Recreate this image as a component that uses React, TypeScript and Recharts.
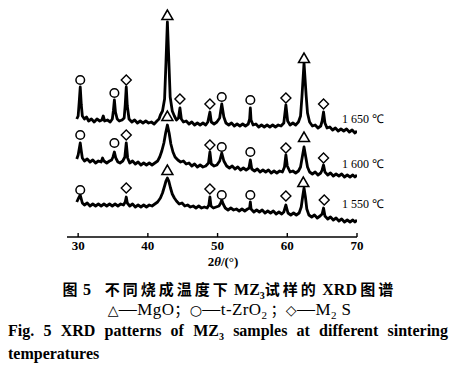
import { ComposedChart, Line, Scatter, XAxis, YAxis } from 'recharts';

// XRD traces, [2θ, intensity offset]
const trace1650: [number, number][] = [
  [29.8, 118], [30.0, 121], [30.15, 135], [30.3, 150], [30.45, 132], [30.6, 121], [30.9, 118], [31.2, 120],
  [31.5, 116], [31.9, 118], [32.3, 115], [32.7, 118], [33.1, 116], [33.4, 117], [33.6, 121], [33.8, 116],
  [34.2, 117], [34.6, 115], [34.9, 118], [35.05, 126], [35.2, 137], [35.35, 125], [35.6, 118], [35.9, 116],
  [36.3, 117], [36.6, 119], [36.75, 132], [36.9, 150], [37.05, 131], [37.3, 118], [37.7, 115], [38.1, 117],
  [38.5, 114], [38.9, 116], [39.3, 114], [39.7, 116], [40.1, 114], [40.5, 115], [40.9, 113], [41.3, 116],
  [41.6, 118], [41.8, 122], [42.1, 126], [42.4, 138], [42.6, 175], [42.8, 215], [43.0, 178], [43.2, 140],
  [43.5, 126], [43.8, 121], [44.1, 117], [44.4, 119], [44.6, 129], [44.8, 118], [45.1, 115], [45.5, 116],
  [45.9, 113], [46.3, 115], [46.7, 112], [47.1, 114], [47.5, 112], [47.9, 114], [48.3, 112], [48.6, 115],
  [48.9, 125], [49.1, 115], [49.5, 113], [49.9, 115], [50.3, 119], [50.6, 133], [50.9, 120], [51.2, 114],
  [51.6, 112], [52.0, 114], [52.4, 111], [52.8, 113], [53.2, 111], [53.6, 113], [54.0, 111], [54.4, 113],
  [54.6, 118], [54.7, 129], [54.8, 117], [55.1, 112], [55.5, 113], [55.9, 110], [56.3, 112], [56.7, 110],
  [57.1, 112], [57.5, 110], [57.9, 112], [58.3, 110], [58.7, 112], [59.1, 111], [59.5, 114], [59.8, 132],
  [60.05, 116], [60.4, 112], [60.8, 114], [61.2, 112], [61.6, 115], [61.9, 121], [62.1, 140], [62.4, 174],
  [62.7, 142], [62.9, 124], [63.2, 115], [63.6, 111], [64.0, 112], [64.4, 109], [64.8, 111], [65.0, 116],
  [65.2, 125], [65.4, 114], [65.7, 109], [66.1, 110], [66.5, 107], [66.9, 109], [67.3, 106], [67.7, 108],
  [68.1, 106], [68.5, 108], [68.9, 105], [69.3, 107], [69.7, 104], [70.0, 106],
];

const trace1600: [number, number][] = [
  [29.8, 78], [30.0, 82], [30.15, 88], [30.3, 94], [30.45, 86], [30.6, 79], [30.9, 76], [31.3, 78],
  [31.7, 75], [32.1, 77], [32.5, 74], [32.9, 76], [33.3, 75], [33.5, 79], [33.7, 76], [34.1, 74],
  [34.5, 76], [34.8, 77], [35.0, 80], [35.2, 85], [35.4, 79], [35.7, 75], [36.0, 74], [36.4, 76],
  [36.7, 80], [36.9, 94], [37.1, 79], [37.4, 74], [37.8, 76], [38.2, 73], [38.6, 75], [39.0, 72],
  [39.4, 74], [39.8, 72], [40.2, 74], [40.6, 72], [41.0, 74], [41.4, 76], [41.7, 80], [42.0, 86],
  [42.3, 94], [42.55, 104], [42.8, 112], [43.05, 104], [43.3, 93], [43.6, 85], [43.9, 80], [44.3, 77],
  [44.7, 75], [45.1, 76], [45.5, 73], [45.9, 74], [46.3, 71], [46.7, 73], [47.1, 70], [47.5, 72],
  [47.9, 70], [48.3, 71], [48.7, 74], [48.9, 85], [49.1, 73], [49.5, 71], [49.9, 72], [50.3, 76],
  [50.6, 84], [50.9, 76], [51.3, 71], [51.7, 69], [52.1, 71], [52.5, 68], [52.9, 70], [53.3, 67],
  [53.7, 69], [54.1, 67], [54.5, 69], [54.7, 77], [54.9, 68], [55.3, 66], [55.7, 68], [56.1, 65],
  [56.5, 67], [56.9, 65], [57.3, 67], [57.7, 64], [58.1, 66], [58.5, 64], [58.9, 66], [59.3, 65],
  [59.6, 70], [59.8, 82], [60.0, 71], [60.4, 65], [60.8, 66], [61.2, 64], [61.6, 66], [61.9, 70],
  [62.15, 80], [62.4, 90], [62.65, 80], [62.9, 70], [63.2, 65], [63.6, 63], [64.0, 65], [64.4, 62],
  [64.8, 64], [65.0, 67], [65.2, 72], [65.4, 65], [65.8, 62], [66.2, 64], [66.6, 61], [67.0, 63],
  [67.4, 61], [67.8, 63], [68.2, 60], [68.6, 62], [69.0, 60], [69.4, 62], [69.7, 60], [70.0, 62],
];

const trace1550: [number, number][] = [
  [29.8, 35], [30.0, 38], [30.15, 40], [30.3, 42], [30.45, 38], [30.6, 34], [30.9, 32], [31.3, 34],
  [31.7, 31], [32.1, 33], [32.5, 31], [32.9, 33], [33.3, 31], [33.7, 33], [34.1, 31], [34.5, 33],
  [34.9, 31], [35.3, 33], [35.7, 31], [36.1, 33], [36.5, 32], [36.75, 35], [36.9, 40], [37.05, 34],
  [37.4, 31], [37.8, 33], [38.2, 30], [38.6, 32], [39.0, 30], [39.4, 32], [39.8, 30], [40.2, 32],
  [40.6, 31], [41.0, 33], [41.4, 35], [41.8, 39], [42.1, 44], [42.4, 51], [42.6, 56], [42.8, 59],
  [43.0, 56], [43.25, 49], [43.5, 43], [43.8, 39], [44.1, 36], [44.5, 33], [44.9, 34], [45.3, 31],
  [45.7, 32], [46.1, 30], [46.5, 31], [46.9, 29], [47.3, 31], [47.7, 29], [48.1, 30], [48.5, 29],
  [48.75, 32], [48.9, 40], [49.05, 31], [49.4, 29], [49.8, 30], [50.2, 31], [50.45, 34], [50.6, 37],
  [50.8, 33], [51.1, 29], [51.5, 27], [51.9, 29], [52.3, 27], [52.7, 28], [53.1, 26], [53.5, 28],
  [53.9, 26], [54.3, 28], [54.6, 29], [54.7, 35], [54.8, 28], [55.2, 25], [55.6, 27], [56.0, 25],
  [56.4, 27], [56.8, 24], [57.2, 26], [57.6, 24], [58.0, 26], [58.4, 23], [58.8, 25], [59.2, 23],
  [59.5, 25], [59.8, 32], [60.1, 24], [60.5, 22], [60.9, 24], [61.3, 22], [61.7, 24], [62.0, 30],
  [62.2, 40], [62.4, 49], [62.6, 40], [62.8, 28], [63.1, 22], [63.5, 20], [63.9, 22], [64.3, 19],
  [64.7, 21], [65.0, 23], [65.2, 29], [65.4, 21], [65.8, 18], [66.2, 20], [66.6, 17], [67.0, 19],
  [67.4, 16], [67.8, 18], [68.2, 15], [68.6, 17], [69.0, 15], [69.4, 17], [69.7, 15], [70.0, 17],
];

// phase markers placed above their peaks
const mgoMarks: [number, number][] = [
  [42.8, 222], [62.4, 179], [42.8, 121], [62.4, 100], [42.8, 67], [62.3, 55],
];
const zro2Marks: [number, number][] = [
  [30.3, 157], [35.2, 144], [50.6, 140], [54.7, 137],
  [30.3, 102], [35.2, 94], [50.6, 90], [54.7, 85],
  [30.3, 47], [50.6, 42], [54.7, 42],
];
const m2sMarks: [number, number][] = [
  [36.9, 157], [44.6, 138], [48.9, 133], [59.8, 139], [65.2, 133],
  [36.9, 102], [48.9, 92], [59.8, 89], [65.2, 79],
  [36.9, 49], [48.9, 48], [59.8, 41], [65.3, 37],
];

const xTicks = [30, 40, 50, 60, 70];
const tempLabels = ['1 650 ℃', '1 600 ℃', '1 550 ℃'];

const toPts = (arr: [number, number][]) => arr.map(([x, y]) => ({ x, y }));

const serif = '"Liberation Serif", "Times New Roman", serif';
const cjk = '"Noto Sans CJK SC", sans-serif';

const Triangle = (props: any) => {
  const { cx, cy } = props;
  return (
    <polygon
      points={`${cx},${cy - 5} ${cx - 5.5},${cy + 4.5} ${cx + 5.5},${cy + 4.5}`}
      fill="#fff"
      stroke="#000"
      strokeWidth={1.5}
    />
  );
};

const Circle = (props: any) => {
  const { cx, cy } = props;
  return <circle cx={cx} cy={cy} r={4.3} fill="#fff" stroke="#000" strokeWidth={1.5} />;
};

const Diamond = (props: any) => {
  const { cx, cy } = props;
  return (
    <polygon
      points={`${cx},${cy - 5} ${cx + 5},${cy} ${cx},${cy + 5} ${cx - 5},${cy}`}
      fill="#fff"
      stroke="#000"
      strokeWidth={1.4}
    />
  );
};

const sym: React.CSSProperties = { fontSize: 14, lineHeight: '18px', fontFamily: '"DejaVu Sans", sans-serif' };
const dash: React.CSSProperties = { fontSize: 18, lineHeight: '18px' };
const semi: React.CSSProperties = { fontSize: 15, lineHeight: '18px', fontFamily: cjk };
const sub: React.CSSProperties = { fontSize: 11, lineHeight: '10px' };

export default function App() {
  const traces = [trace1650, trace1600, trace1550];
  const labelTops = [110, 155, 195];

  return (
    <div
      style={{
        position: 'absolute',
        left: 0,
        top: 0,
        width: 459,
        height: 392,
        background: '#fff',
        overflow: 'hidden',
        fontFamily: serif,
        color: '#000',
      }}
    >
      <ComposedChart width={459} height={280} margin={{ top: 7, right: 102, bottom: 13, left: 67 }}>
        <XAxis
          dataKey="x"
          type="number"
          domain={[28.4, 70]}
          ticks={xTicks}
          allowDataOverflow
          height={30}
          tickSize={-4}
          tickMargin={8}
          axisLine={{ stroke: '#000', strokeWidth: 1.6 }}
          tickLine={{ stroke: '#000', strokeWidth: 1.4 }}
          tick={{ fill: '#000', fontSize: 13, fontWeight: 'bold', fontFamily: serif }}
        />
        <YAxis type="number" domain={[0, 230]} hide allowDataOverflow />
        {traces.map((t, i) => (
          <Line
            key={i}
            data={toPts(t)}
            dataKey="y"
            type="linear"
            stroke="#000"
            strokeWidth={2.8}
            strokeLinejoin="round"
            dot={false}
            activeDot={false}
            isAnimationActive={false}
          />
        ))}
        <Scatter data={toPts(mgoMarks)} dataKey="y" shape={Triangle} isAnimationActive={false} />
        <Scatter data={toPts(zro2Marks)} dataKey="y" shape={Circle} isAnimationActive={false} />
        <Scatter data={toPts(m2sMarks)} dataKey="y" shape={Diamond} isAnimationActive={false} />
      </ComposedChart>

      {tempLabels.map((t, i) => (
        <div key={t} style={{ position: 'absolute', left: 342, top: labelTops[i], fontSize: 12, whiteSpace: 'nowrap' }}>
          {t}
        </div>
      ))}

      <div style={{ position: 'absolute', left: 0, width: 446, top: 255, lineHeight: '13px', textAlign: 'center', fontSize: 13, fontWeight: 'bold' }}>
        2<i>θ</i>/(°)
      </div>

      <div
        style={{
          position: 'absolute',
          left: 0,
          width: 459,
          top: 280,
          lineHeight: '18px',
          textAlign: 'center',
          fontSize: 15,
          fontWeight: 700,
          fontFamily: cjk,
          whiteSpace: 'nowrap',
        }}
      >
        <span style={{ letterSpacing: 2 }}>图</span> <span style={{ fontFamily: serif, fontSize: 16 }}>5</span>
        &nbsp;&nbsp;&nbsp;&nbsp;
        <span style={{ letterSpacing: 3 }}>不同烧成温度下</span>{' '}
        <span style={{ fontFamily: serif, fontSize: 16 }}>
          MZ<sub style={{ fontSize: 10, lineHeight: '10px' }}>3</sub>
        </span>
        <span style={{ letterSpacing: 3 }}>试样的</span>{' '}
        <span style={{ fontFamily: serif, fontSize: 16 }}>XRD</span>{' '}
        <span style={{ letterSpacing: 3 }}>图谱</span>
      </div>

      <div
        style={{
          position: 'absolute',
          left: 0,
          width: 459,
          top: 300,
          lineHeight: '18px',
          textAlign: 'center',
          fontSize: 17,
          letterSpacing: 0.4,
          whiteSpace: 'nowrap',
        }}
      >
        <span style={sym}>△</span>
        <span style={dash}>—</span>MgO<span style={semi}>；</span>
        <span style={sym}>○</span>
        <span style={dash}>—</span>t-ZrO<sub style={sub}>2</sub>
        <span style={{ ...semi, marginLeft: 3 }}>；</span>
        <span style={sym}>◇</span>
        <span style={dash}>—</span>M<sub style={sub}>2</sub> S
      </div>

      <div
        style={{
          position: 'absolute',
          left: 8,
          width: 440,
          top: 321,
          lineHeight: '19px',
          fontSize: 16,
          fontWeight: 'bold',
          textAlign: 'justify',
          textAlignLast: 'justify',
          whiteSpace: 'nowrap',
        }}
      >
        Fig. 5 XRD patterns of MZ<sub style={{ fontSize: 10, lineHeight: '10px' }}>3</sub> samples at different sintering
      </div>
      <div style={{ position: 'absolute', left: 8, top: 344, lineHeight: '19px', fontSize: 16, fontWeight: 'bold' }}>temperatures</div>
    </div>
  );
}
